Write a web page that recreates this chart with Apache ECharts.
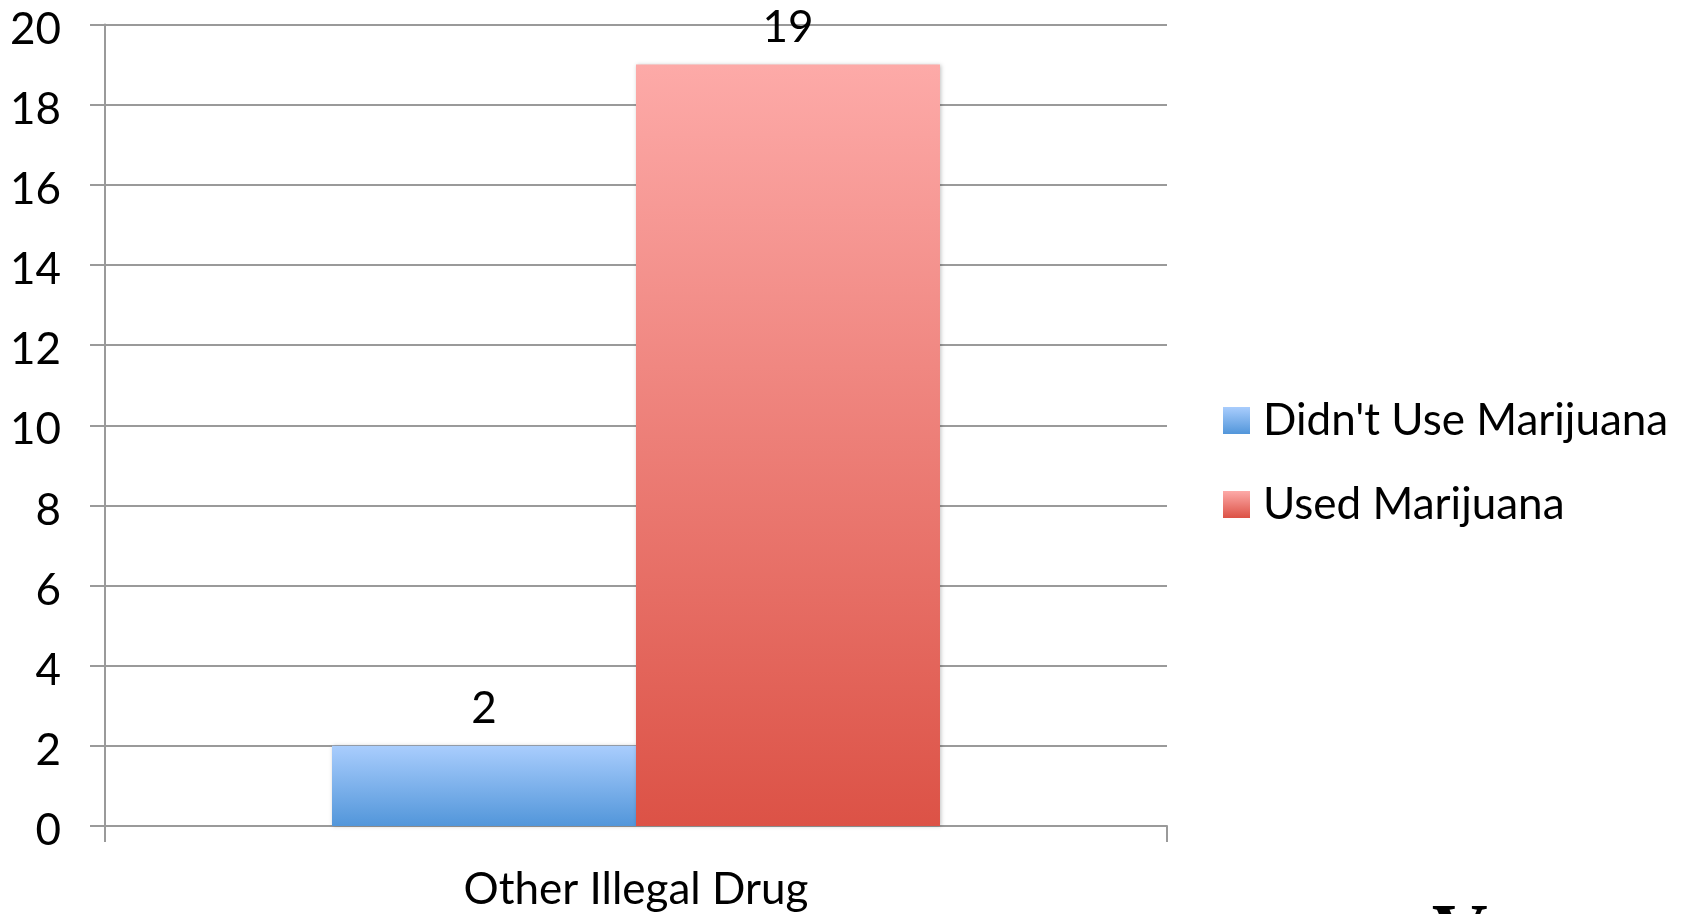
<!DOCTYPE html>
<html>
<head>
<meta charset="utf-8">
<script src="https://cdn.jsdelivr.net/npm/echarts@6/dist/echarts.min.js"></script>
<style>html,body{margin:0;padding:0;background:#fff}#c{width:1690px;height:914px}</style>
</head>
<body>
<div id="c"></div>
<script>
const categories = ['Other Illegal Drug'];
const seriesNames = ["Didn't Use Marijuana", 'Used Marijuana'];
const didntUse = [2];
const used = [19];
const yTicks = [0, 2, 4, 6, 8, 10, 12, 14, 16, 18, 20];

const FONT = 'Lato';
const chart = echarts.init(document.getElementById('c'));
function grad(top, bottom) {
  return new echarts.graphic.LinearGradient(0, 0, 0, 1, [
    { offset: 0, color: top }, { offset: 1, color: bottom }
  ]);
}
const axisColor = '#9a9a9a';
chart.setOption({
  animation: false,
  grid: { left: 105, right: 523, top: 24.5, bottom: 88 },
  legend: {
    orient: 'vertical', left: 1223, top: 398.5, padding: 0,
    itemWidth: 27, itemHeight: 27, itemGap: 40,
    icon: 'rect',
    textStyle: { fontFamily: FONT, fontSize: 44, color: '#000', lineHeight: 40, padding: [0, 0, 0, 8] },
    data: seriesNames
  },
  xAxis: {
    type: 'category', data: categories,
    axisLine: { lineStyle: { color: axisColor, width: 2 } },
    axisTick: { show: true, length: 16, lineStyle: { color: axisColor, width: 2 } },
    axisLabel: { fontFamily: FONT, fontSize: 44, color: '#000', margin: 42 }
  },
  yAxis: {
    type: 'value', min: yTicks[0], max: yTicks[yTicks.length - 1], interval: 2,
    axisLine: { show: true, lineStyle: { color: axisColor, width: 2 } },
    axisTick: { show: true, length: 15, lineStyle: { color: axisColor, width: 2 } },
    splitLine: { lineStyle: { color: axisColor, width: 2 } },
    axisLabel: { fontFamily: FONT, fontSize: 44, color: '#000', margin: 44, verticalAlign: 'top', lineHeight: 10 }
  },
  series: [
    {
      name: seriesNames[0], type: 'bar', data: didntUse,
      barGap: '0%', barCategoryGap: '42.75%',
      itemStyle: { color: grad('#a9cdfd', '#5296da'), shadowBlur: 4, shadowColor: 'rgba(0,0,0,0.25)', shadowOffsetX: 1 },
      label: { show: true, position: 'top', distance: 15, fontFamily: FONT, fontSize: 44, color: '#000' }
    },
    {
      name: seriesNames[1], type: 'bar', data: used,
      itemStyle: { color: grad('#fdaaa8', '#dc5246'), shadowBlur: 4, shadowColor: 'rgba(0,0,0,0.25)', shadowOffsetX: 1 },
      label: { show: true, position: 'top', distance: 15, fontFamily: FONT, fontSize: 44, color: '#000' }
    }
  ],
  graphic: [{
    type: 'text', left: 1432, top: 898,
    style: { text: 'V', font: 'bold 77px "Liberation Serif"', fill: '#000' }
  }]
});
</script>
</body>
</html>
